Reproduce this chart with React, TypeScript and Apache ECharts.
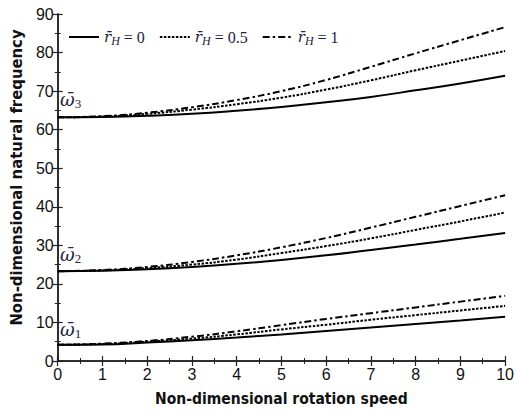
import React, { useEffect, useRef } from "react";
import * as echarts from "echarts";

const speeds = [0, 1, 2, 3, 4, 5, 6, 7, 8, 9, 10];
const xTicks = ["0", "1", "2", "3", "4", "5", "6", "7", "8", "9", "10"];
const legendNames = ["rH = 0", "rH = 0.5", "rH = 1"];
const legendValues = ["0", "0.5", "1"];

// mode 1
const w1_r0 = [4.2, 4.3, 4.8, 5.4, 6.1, 6.9, 7.8, 8.7, 9.6, 10.5, 11.5];
const w1_r05 = [4.2, 4.4, 5.0, 5.8, 6.9, 8.2, 9.4, 10.7, 11.9, 13.1, 14.3];
const w1_r1 = [4.2, 4.5, 5.2, 6.3, 7.7, 9.3, 10.9, 12.4, 13.9, 15.4, 16.9];
// mode 2
const w2_r0 = [23.3, 23.4, 23.8, 24.4, 25.2, 26.2, 27.4, 28.8, 30.2, 31.7, 33.2];
const w2_r05 = [23.3, 23.5, 24.1, 25.0, 26.3, 28.0, 29.8, 31.8, 34.0, 36.2, 38.5];
const w2_r1 = [23.3, 23.6, 24.4, 25.7, 27.4, 29.5, 31.9, 34.6, 37.4, 40.2, 43.0];
// mode 3
const w3_r0 = [63.2, 63.3, 63.6, 64.1, 64.9, 65.9, 67.1, 68.5, 70.2, 72.0, 74.0];
const w3_r05 = [63.2, 63.4, 64.1, 65.2, 66.6, 68.3, 70.4, 72.8, 75.4, 77.9, 80.4];
const w3_r1 = [63.2, 63.5, 64.4, 65.8, 67.7, 70.0, 72.9, 76.3, 79.8, 83.2, 86.6];

const modeLabels = ["1", "2", "3"];

const TXT = "#1b2340";
const SERIF = "'Liberation Serif', 'DejaVu Serif', serif";
const MARKF = "'DejaVu Serif', serif";
const SANS = "'Liberation Sans', Arial, sans-serif";
const NARROW = "'Liberation Sans Narrow', 'DejaVu Sans Condensed', 'Liberation Sans', sans-serif";

const styles: any[] = [
  { type: "solid" },
  { type: [2.5, 1.5] },
  { type: [7, 3, 2.5, 3] },
];

export default function App() {
  const ref = useRef<HTMLDivElement>(null);
  useEffect(() => {
    document.body.style.margin = "0";
    const chart = echarts.init(ref.current!, null, { renderer: "svg" });
    const groups = [
      [w1_r0, w1_r05, w1_r1],
      [w2_r0, w2_r05, w2_r1],
      [w3_r0, w3_r05, w3_r1],
    ];
    const series: any[] = [];
    groups.forEach((g) => {
      g.forEach((vals, k) => {
        series.push({
          type: "line",
          name: legendNames[k],
          data: speeds.map((s, i) => [s, vals[i]]),
          symbol: "none",
          smooth: true,
          lineStyle: { color: "#000", width: 2, type: styles[k].type },
          itemStyle: { color: "#000" },
          xAxisIndex: 0,
          yAxisIndex: 0,
        });
      });
    });
    const axisCommon = {
      axisLine: { show: true, lineStyle: { color: "#222", width: 1.5 } },
      axisTick: { show: true, inside: true, length: 5, lineStyle: { color: "#222", width: 1.2 } },
      minorTick: { show: true, splitNumber: 2, length: 3, lineStyle: { color: "#222", width: 1 } },
      splitLine: { show: false },
    };
    const modeY = [331, 256, 101];
    chart.setOption({
      animation: false,
      grid: { left: 50, right: 10, top: 14, bottom: 48 },
      xAxis: [
        {
          type: "value", min: 0, max: 10, interval: 1, position: "bottom",
          ...axisCommon,
          axisLabel: { color: "#111", fontFamily: SANS, fontSize: 16, margin: 5, formatter: (v: number) => xTicks[v] },
          name: "Non-dimensional rotation speed",
          nameLocation: "middle",
          nameGap: 30,
          nameTextStyle: { fontFamily: NARROW, fontWeight: "bold", fontSize: 15.5, color: "#111" },
        },
        { type: "value", min: 0, max: 10, interval: 1, position: "top", ...axisCommon, axisLabel: { show: false } },
      ],
      yAxis: [
        {
          type: "value", min: 0, max: 90, interval: 10, position: "left",
          ...axisCommon,
          axisLabel: { color: "#111", fontFamily: SANS, fontSize: 16, margin: 4 },
          name: "Non-dimensional natural frequency",
          nameLocation: "middle",
          nameGap: 31,
          nameTextStyle: { fontFamily: NARROW, fontWeight: "bold", fontSize: 16.5, color: "#111", padding: [0, 0, 0, 20] },
        },
        { type: "value", min: 0, max: 90, interval: 10, position: "right", ...axisCommon, axisLabel: { show: false } },
      ],
      legend: {
        left: 63,
        top: 24,
        itemWidth: 30,
        itemHeight: 14,
        itemGap: 14,
        itemStyle: { opacity: 0 },
        data: legendNames,
        formatter: (name: string) => {
          const k = legendNames.indexOf(name);
          return `{r|r\u0304}{h|H}{t| = ${legendValues[k]}}`;
        },
        textStyle: {
          color: TXT,
          rich: {
            r: { fontFamily: MARKF, fontStyle: "italic", fontSize: 15, color: TXT },
            h: { fontFamily: SERIF, fontStyle: "italic", fontSize: 12, color: TXT, padding: [8, 0, 0, 0] },
            t: { fontFamily: SERIF, fontSize: 16, color: TXT },
          },
        },
      },
      graphic: modeLabels.map((m, i) => ({
        type: "text",
        left: 60,
        top: modeY[i] - 11,
        style: {
          text: `{w|\u03C9\u0304}{s|${m}}`,
          rich: {
            w: { fontFamily: MARKF, fontStyle: "italic", fontSize: 18, fill: TXT },
            s: { fontFamily: SERIF, fontSize: 13, fill: TXT, padding: [8, 0, 0, 0] },
          },
        },
      })),
      series,
    });
    return () => chart.dispose();
  }, []);
  return <div ref={ref} style={{ width: 517, height: 412, position: "absolute", left: 0, top: 0 }} />;
}
